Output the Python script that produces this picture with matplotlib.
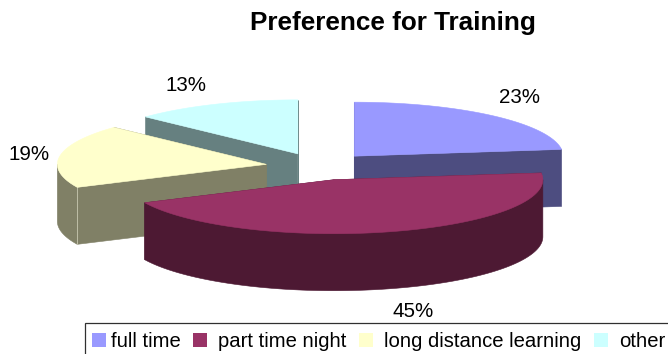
import numpy as np
import matplotlib
matplotlib.use("Agg")
import matplotlib.pyplot as plt
from matplotlib.patches import Polygon, Rectangle

plt.rcParams['font.family'] = ['Liberation Sans', 'DejaVu Sans']

title = "Preference for Training"
categories = ["full time", "part time night", "long distance learning", "other"]
values = [23, 45, 19, 13]
top_colors = ["#9999FF", "#993366", "#FFFFCC", "#CCFFFF"]
side_colors = ["#4D4D80", "#4D1933", "#808066", "#668080"]

# layout, everything in image pixels
cx0, cy0 = 319, 166.5
rx, ry = 209, 54
explode = 0.255
depth = 57
label_pos = [(520, 103), (413, 317), (29.5, 160), (186, 91)]
swatch_x = [92, 193, 359, 594]
legend_text_x = [111, 218, 384, 619]

fig = plt.figure(figsize=(6.68, 3.54), dpi=100)
ax = fig.add_axes([0, 0, 1, 1])
ax.set_xlim(0, 668)
ax.set_ylim(354, 0)
ax.axis("off")


def ellipse(cx, cy, a):
    # a in radians, clockwise from 12 o'clock
    return np.column_stack([cx + rx * np.sin(a), cy - ry * np.cos(a)])


def draw_slice(start, end, top, side, z):
    mid = (start + end) / 2
    cx = cx0 + explode * rx * np.sin(mid)
    cy = cy0 - explode * ry * np.cos(mid)
    arc = ellipse(cx, cy, np.linspace(start, end, 150))
    down = np.array([0, depth])
    apex = np.array([cx, cy])

    # flat cut faces
    for p in (arc[0], arc[-1]):
        face = [apex, p, p + down, apex + down]
        ax.add_patch(Polygon(face, fc=side, ec=side, lw=0.4, zorder=z))

    # curved outer wall, only the part that faces the viewer
    lo, hi = max(start, np.pi / 2), min(end, 3 * np.pi / 2)
    if hi > lo:
        wall = ellipse(cx, cy, np.linspace(lo, hi, 150))
        pts = np.vstack([wall, wall[::-1] + down])
        ax.add_patch(Polygon(pts, fc=side, ec=side, lw=0.4, zorder=z + 0.1))
        if start > np.pi / 2:
            # light seam where the cut face meets the wall
            ax.plot([arc[0][0]] * 2, [arc[0][1], arc[0][1] + depth], color="#C8C8B0", lw=0.6, zorder=z + 0.2)

    ax.add_patch(Polygon(np.vstack([apex, arc]), fc=top, ec=top, lw=0.4, zorder=z + 0.3))


fractions = np.array(values) / sum(values)
edges = np.concatenate([[0], np.cumsum(fractions)]) * 2 * np.pi
draw_order = [0, 3, 2, 1]
for z, i in enumerate(draw_order):
    draw_slice(edges[i], edges[i + 1], top_colors[i], side_colors[i], z + 1)

for v, (x, y) in zip(values, label_pos):
    ax.text(x, y, f"{v}%", fontsize=14.8, ha="center", va="baseline", color="black", zorder=10)

ax.text(392.5, 30, title, fontsize=18.8, fontweight="bold", ha="center", va="baseline", zorder=10)

# legend box runs off the right and bottom of the picture
ax.add_patch(Rectangle((84.5, 322.5), 620, 60, fc="white", ec="#303030", lw=0.9, zorder=11))
for name, color, sx, tx in zip(categories, top_colors, swatch_x, legend_text_x):
    ax.add_patch(Rectangle((sx, 333), 14, 14, fc=color, ec="none", zorder=12))
    ax.text(tx, 347, name, fontsize=14.6, ha="left", va="baseline", zorder=12)

fig.savefig("out.png", dpi=100)
